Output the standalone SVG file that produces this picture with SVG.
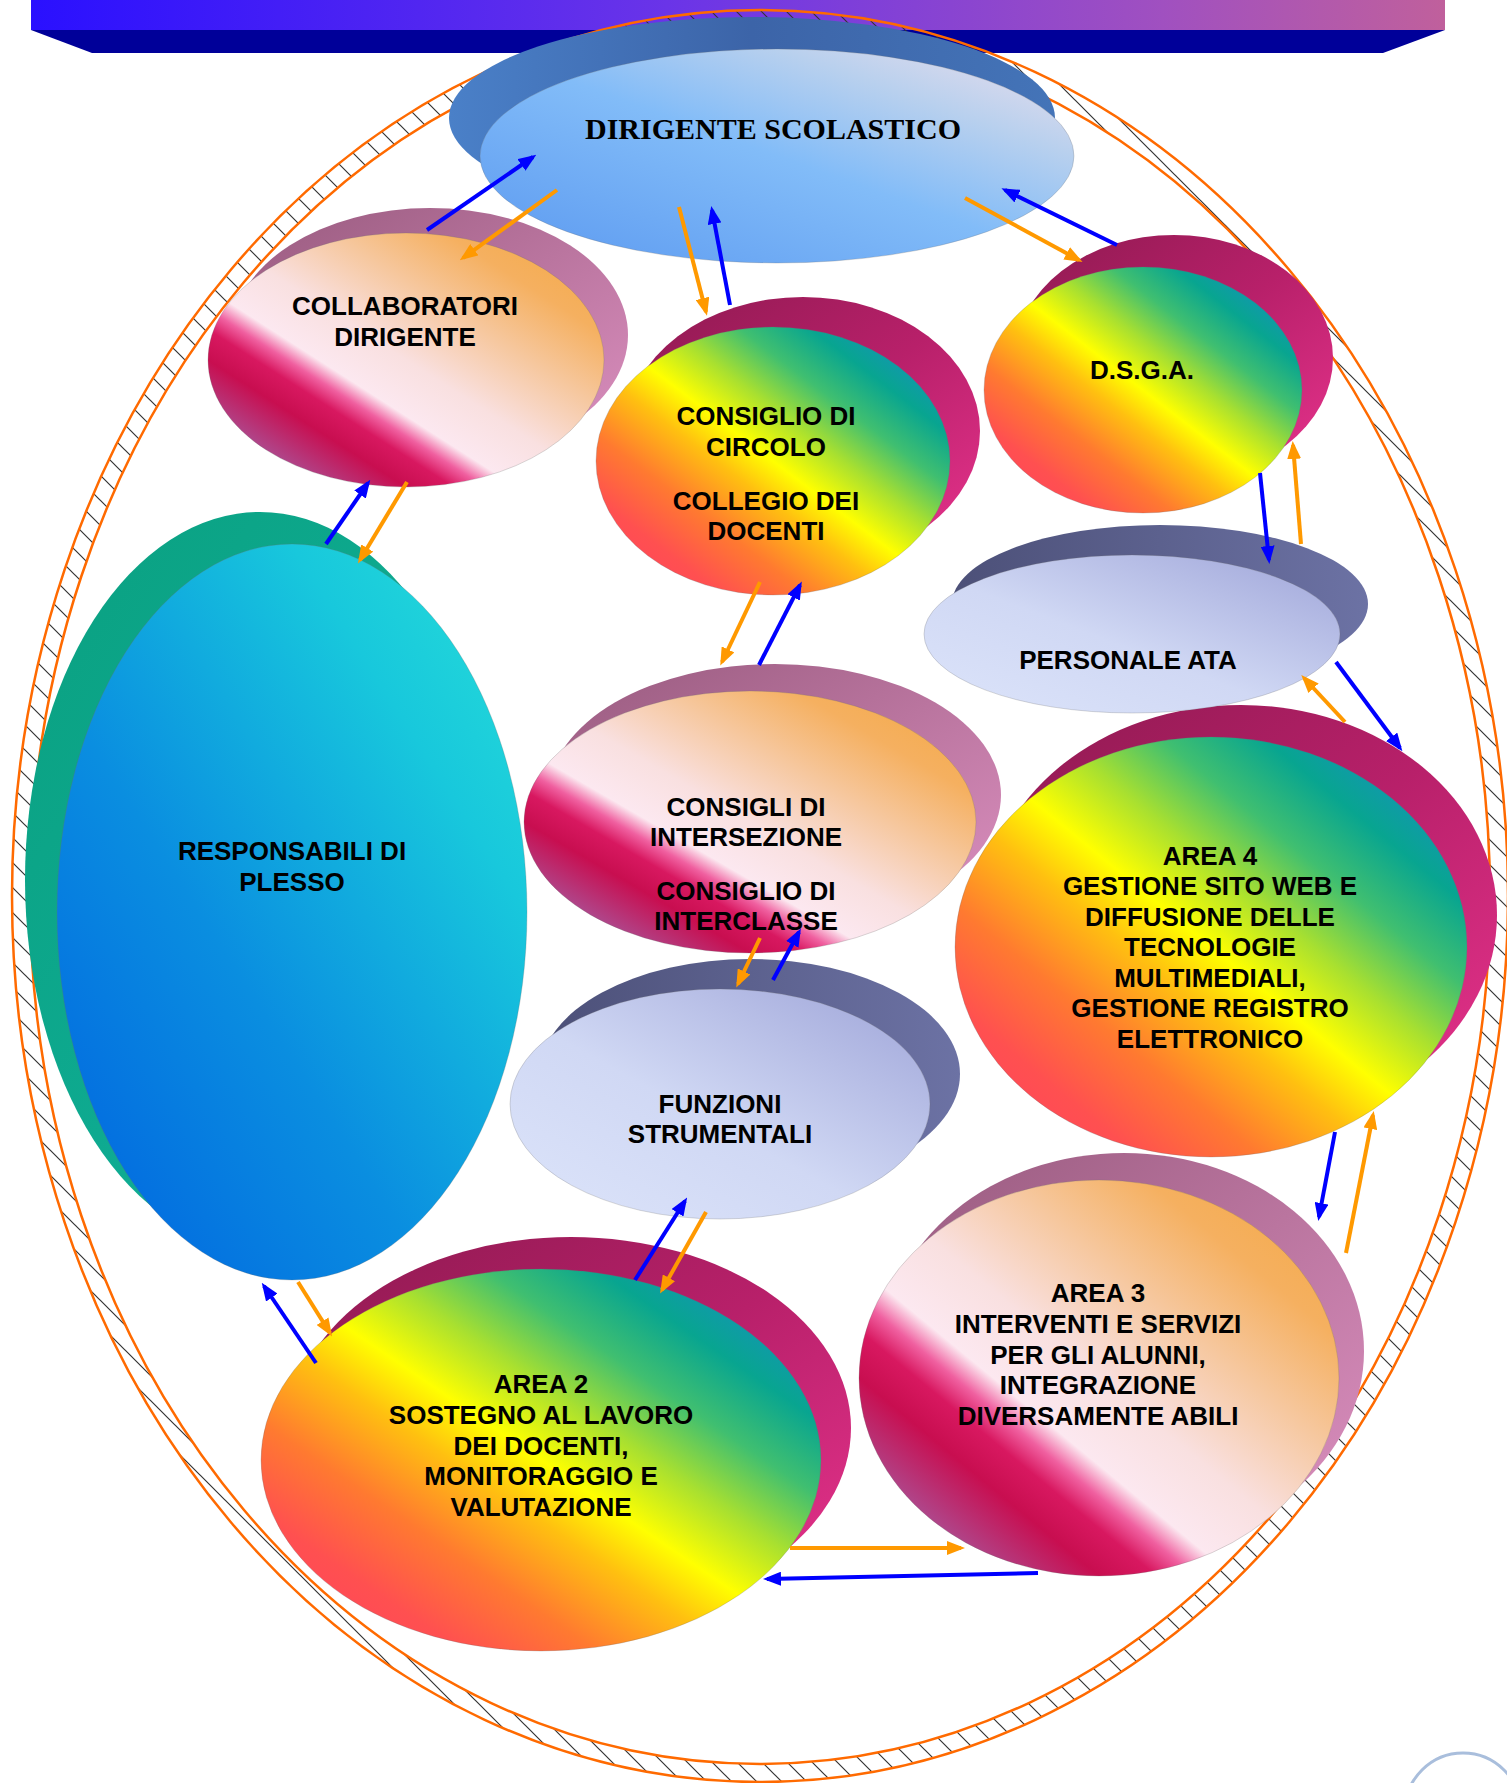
<svg xmlns="http://www.w3.org/2000/svg" width="1507" height="1783" viewBox="0 0 1507 1783">
<style>
.lbl{font-family:"Liberation Sans",Arial,sans-serif;font-weight:bold;font-size:26px;fill:#000;text-anchor:middle}
.ttl{font-family:"Liberation Serif","Times New Roman",serif;font-weight:bold;font-size:30px;fill:#000;text-anchor:middle}
.main{stroke:#6b6b6b;stroke-opacity:.25;stroke-width:1}
.b{stroke:#0000ff;stroke-width:4;fill:none;marker-end:url(#hb)}
.o{stroke:#ff9900;stroke-width:4;fill:none;marker-end:url(#ho)}
.ring{fill:none;stroke:#ff6a00;stroke-width:2.5}
</style>
<defs>
<linearGradient id="bn" x1="0" y1="0" x2="1" y2="0"><stop offset="0" stop-color="#2a10ff"/><stop offset="0.45" stop-color="#6a34e8"/><stop offset="0.8" stop-color="#a050c0"/><stop offset="1" stop-color="#c0609c"/></linearGradient>
<linearGradient id="rb" x1="0" y1="1" x2="1" y2="0"><stop offset="0" stop-color="#ff3c64"/><stop offset="0.18" stop-color="#ff5050"/><stop offset="0.3" stop-color="#ff7a30"/><stop offset="0.42" stop-color="#ffc010"/><stop offset="0.5" stop-color="#ffff00"/><stop offset="0.6" stop-color="#a8e030"/><stop offset="0.7" stop-color="#40bf70"/><stop offset="0.8" stop-color="#08a590"/><stop offset="0.92" stop-color="#1890c0"/><stop offset="1" stop-color="#2080d0"/></linearGradient>
<linearGradient id="magS" x1="0" y1="0" x2="1" y2="1"><stop offset="0" stop-color="#8e1a50"/><stop offset="0.5" stop-color="#b8206a"/><stop offset="1" stop-color="#e8348e"/></linearGradient>
<linearGradient id="po" x1="0" y1="1" x2="1" y2="0"><stop offset="0" stop-color="#9a4a9a"/><stop offset="0.15" stop-color="#b04488"/><stop offset="0.25" stop-color="#c80e50"/><stop offset="0.31" stop-color="#d81860"/><stop offset="0.35" stop-color="#f060a0"/><stop offset="0.39" stop-color="#fce8f0"/><stop offset="0.5" stop-color="#f9e0e0"/><stop offset="0.65" stop-color="#f6c8a0"/><stop offset="0.8" stop-color="#f5b060"/><stop offset="1" stop-color="#f4a840"/></linearGradient>
<linearGradient id="mvS" x1="0" y1="0" x2="1" y2="1"><stop offset="0" stop-color="#985a7e"/><stop offset="1" stop-color="#dc90c0"/></linearGradient>
<linearGradient id="dsM" x1="0" y1="1" x2="1" y2="0"><stop offset="0" stop-color="#5a98f0"/><stop offset="0.5" stop-color="#82bcf8"/><stop offset="0.75" stop-color="#b8d0ee"/><stop offset="1" stop-color="#f0e0ec"/></linearGradient>
<linearGradient id="dsS" x1="0" y1="0" x2="1" y2="0"><stop offset="0" stop-color="#4a80c8"/><stop offset="0.5" stop-color="#3c64a8"/><stop offset="1" stop-color="#4474b8"/></linearGradient>
<linearGradient id="rpM" x1="0" y1="1" x2="1" y2="0"><stop offset="0" stop-color="#0060e0"/><stop offset="0.4" stop-color="#0a8ee0"/><stop offset="0.75" stop-color="#18c8dc"/><stop offset="1" stop-color="#28e0d8"/></linearGradient>
<linearGradient id="rpS" x1="0" y1="0" x2="1" y2="1"><stop offset="0" stop-color="#0aa080"/><stop offset="1" stop-color="#12b4a0"/></linearGradient>
<linearGradient id="lvM" x1="0" y1="1" x2="1" y2="0"><stop offset="0" stop-color="#dce4fa"/><stop offset="0.45" stop-color="#d0d8f4"/><stop offset="1" stop-color="#9ea4d8"/></linearGradient>
<linearGradient id="lvS" x1="0" y1="0" x2="1" y2="0"><stop offset="0" stop-color="#4c5078"/><stop offset="1" stop-color="#6c72a4"/></linearGradient>
<pattern id="hatch" patternUnits="userSpaceOnUse" width="25" height="25">
<path d="M0,0 L25,25 M-5,20 L5,30 M20,-5 L30,5" stroke="#333" stroke-width="1.2"/>
</pattern>
<marker id="hb" markerUnits="userSpaceOnUse" markerWidth="18" markerHeight="14" refX="14" refY="7" orient="auto"><path d="M0,0 L18,7 L0,14 Z" fill="#0000ff"/></marker>
<marker id="ho" markerUnits="userSpaceOnUse" markerWidth="18" markerHeight="14" refX="14" refY="7" orient="auto"><path d="M0,0 L18,7 L0,14 Z" fill="#ff9900"/></marker>
</defs>
<rect width="1507" height="1783" fill="#fff"/>
<g id="banner">
<rect x="31" y="0" width="1414" height="30" fill="url(#bn)"/>
<path d="M31,30 L1445,30 L1383,53 L92,53 Z" fill="#000099"/>
</g>
<g id="ring">
<path d="M12,896 A748,886 0 1,0 1508,896 A748,886 0 1,0 12,896 Z M30,896 A730,868 0 1,0 1490,896 A730,868 0 1,0 30,896 Z" fill="url(#hatch)" fill-rule="evenodd"/>
<ellipse class="ring" cx="760" cy="896" rx="748" ry="886"/>
<ellipse class="ring" cx="760" cy="896" rx="730" ry="868"/>
</g>
<g id="dirigente">
<ellipse cx="752" cy="118" rx="303" ry="101" fill="url(#dsS)"/>
<ellipse class="main" cx="777" cy="156" rx="297" ry="107" fill="url(#dsM)"/>
<text class="ttl" x="773" y="139">DIRIGENTE SCOLASTICO</text>
</g>
<g id="collaboratori">
<ellipse cx="430" cy="335" rx="198" ry="127" fill="url(#mvS)"/>
<ellipse class="main" cx="406" cy="360" rx="198" ry="127" fill="url(#po)"/>
<text class="lbl" x="405"><tspan x="405" y="315">COLLABORATORI</tspan><tspan x="405" y="346">DIRIGENTE</tspan></text>
</g>
<g id="circolo">
<ellipse cx="803" cy="431" rx="177" ry="134" fill="url(#magS)"/>
<ellipse class="main" cx="773" cy="461" rx="177" ry="134" fill="url(#rb)"/>
<text class="lbl"><tspan x="766" y="425">CONSIGLIO DI</tspan><tspan x="766" y="456">CIRCOLO</tspan><tspan x="766" y="510">COLLEGIO DEI</tspan><tspan x="766" y="540">DOCENTI</tspan></text>
</g>
<g id="dsga">
<ellipse cx="1174" cy="358" rx="159" ry="123" fill="url(#magS)"/>
<ellipse class="main" cx="1143" cy="390" rx="159" ry="123" fill="url(#rb)"/>
<text class="lbl" x="1142" y="379">D.S.G.A.</text>
</g>
<g id="area4">
<ellipse cx="1241" cy="915" rx="256" ry="210" fill="url(#magS)"/>
<ellipse class="main" cx="1211" cy="947" rx="256" ry="210" fill="url(#rb)"/>
<text class="lbl"><tspan x="1210" y="865">AREA 4</tspan><tspan x="1210" y="895">GESTIONE SITO WEB E</tspan><tspan x="1210" y="926">DIFFUSIONE DELLE</tspan><tspan x="1210" y="956">TECNOLOGIE</tspan><tspan x="1210" y="987">MULTIMEDIALI,</tspan><tspan x="1210" y="1017">GESTIONE REGISTRO</tspan><tspan x="1210" y="1048">ELETTRONICO</tspan></text>
</g>
<g id="ata">
<ellipse cx="1160" cy="604" rx="208" ry="79" fill="url(#lvS)"/>
<ellipse class="main" cx="1132" cy="634" rx="208" ry="79" fill="url(#lvM)"/>
<text class="lbl" x="1128" y="669">PERSONALE ATA</text>
</g>
<g id="responsabili">
<ellipse cx="260" cy="880" rx="235" ry="368" fill="url(#rpS)"/>
<ellipse class="main" cx="292" cy="912" rx="235" ry="368" fill="url(#rpM)"/>
<text class="lbl"><tspan x="292" y="860">RESPONSABILI DI</tspan><tspan x="292" y="891">PLESSO</tspan></text>
</g>
<g id="intersezione">
<ellipse cx="775" cy="795" rx="226" ry="131" fill="url(#mvS)"/>
<ellipse class="main" cx="750" cy="822" rx="226" ry="131" fill="url(#po)"/>
<text class="lbl"><tspan x="746" y="816">CONSIGLI DI</tspan><tspan x="746" y="846">INTERSEZIONE</tspan><tspan x="746" y="900">CONSIGLIO DI</tspan><tspan x="746" y="930">INTERCLASSE</tspan></text>
</g>
<g id="funzioni">
<ellipse cx="750" cy="1074" rx="210" ry="115" fill="url(#lvS)"/>
<ellipse class="main" cx="720" cy="1104" rx="210" ry="115" fill="url(#lvM)"/>
<text class="lbl"><tspan x="720" y="1113">FUNZIONI</tspan><tspan x="720" y="1143">STRUMENTALI</tspan></text>
</g>
<g id="area3">
<ellipse cx="1124" cy="1351" rx="240" ry="198" fill="url(#mvS)"/>
<ellipse class="main" cx="1099" cy="1378" rx="240" ry="198" fill="url(#po)"/>
<text class="lbl"><tspan x="1098" y="1302">AREA 3</tspan><tspan x="1098" y="1333">INTERVENTI E SERVIZI</tspan><tspan x="1098" y="1364">PER GLI ALUNNI,</tspan><tspan x="1098" y="1394">INTEGRAZIONE</tspan><tspan x="1098" y="1425">DIVERSAMENTE ABILI</tspan></text>
</g>
<g id="area2">
<ellipse cx="571" cy="1428" rx="280" ry="191" fill="url(#magS)"/>
<ellipse class="main" cx="541" cy="1460" rx="280" ry="191" fill="url(#rb)"/>
<text class="lbl"><tspan x="541" y="1393">AREA 2</tspan><tspan x="541" y="1424">SOSTEGNO AL LAVORO</tspan><tspan x="541" y="1455">DEI DOCENTI,</tspan><tspan x="541" y="1485">MONITORAGGIO E</tspan><tspan x="541" y="1516">VALUTAZIONE</tspan></text>
</g>
<g id="connectors">
<line class="b" x1="427" y1="230" x2="533" y2="157"/>
<line class="o" x1="557" y1="190" x2="463" y2="258"/>
<line class="o" x1="679" y1="207" x2="706" y2="312"/>
<line class="b" x1="730" y1="305" x2="712" y2="210"/>
<line class="o" x1="965" y1="198" x2="1079" y2="260"/>
<line class="b" x1="1117" y1="245" x2="1005" y2="190"/>
<line class="b" x1="1260" y1="473" x2="1269" y2="560"/>
<line class="o" x1="1301" y1="544" x2="1293" y2="445"/>
<line class="b" x1="1336" y1="662" x2="1400" y2="748"/>
<line class="o" x1="1345" y1="722" x2="1304" y2="678"/>
<line class="b" x1="326" y1="544" x2="368" y2="483"/>
<line class="o" x1="407" y1="482" x2="360" y2="560"/>
<line class="o" x1="760" y1="582" x2="722" y2="662"/>
<line class="b" x1="759" y1="665" x2="800" y2="585"/>
<line class="o" x1="760" y1="938" x2="738" y2="984"/>
<line class="b" x1="773" y1="980" x2="799" y2="932"/>
<line class="b" x1="635" y1="1280" x2="685" y2="1201"/>
<line class="o" x1="706" y1="1212" x2="662" y2="1290"/>
<line class="o" x1="298" y1="1282" x2="330" y2="1333"/>
<line class="b" x1="316" y1="1363" x2="264" y2="1286"/>
<line class="o" x1="790" y1="1548" x2="961" y2="1548"/>
<line class="b" x1="1038" y1="1573" x2="767" y2="1579"/>
<line class="b" x1="1335" y1="1132" x2="1319" y2="1217"/>
<line class="o" x1="1346" y1="1253" x2="1373" y2="1115"/>
</g>
<circle cx="1463" cy="1811" r="58" fill="none" stroke="#a9bedc" stroke-width="3"/>
</svg>
